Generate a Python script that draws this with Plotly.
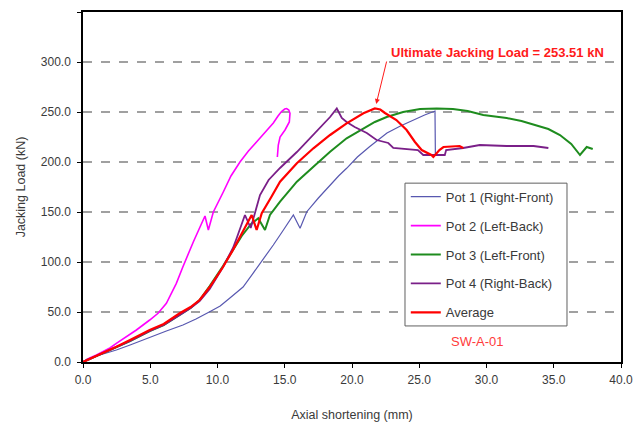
import plotly.graph_objects as go

# ---- data ----
pot1_x = [0, 0.3, 1, 2, 2.48, 3.5, 4.96, 6.2, 7.43, 8.4, 9.42, 10.2, 10.9, 11.9, 12.64, 13.38,
          14.15, 14.9, 15.64, 16.14, 16.64, 17.5, 18.37, 19.0, 19.6, 20.4, 21.3, 22.0, 22.6,
          23.6, 24.56, 25.4, 26.17, 26.2]
pot1_y = [0, 3, 6, 10, 12, 17, 25, 31, 37, 43, 50.3, 56, 63.7, 75, 88.7, 102,
          117, 132, 147, 133.7, 150.3, 164, 177, 186, 193.7, 205, 215.3, 222.5, 229,
          236, 242, 247, 251, 207]

pot2_x = [0, 0.5, 1, 2, 2.48, 3.2, 3.97, 4.96, 5.58, 6.2, 6.94, 7.43, 7.93, 8.2, 8.6, 9.07, 9.32,
          9.69, 10.43, 11.0, 11.67, 12.3, 12.9, 13.5, 14.15, 14.5, 14.76, 15.0, 15.14, 15.3,
          15.39, 15.34, 15.02, 14.65, 14.52, 14.45]
pot2_y = [0, 4, 7, 14, 18.7, 25, 32, 42, 48.7, 58.7, 78.7, 95.3, 112, 120, 132, 146, 132,
          150, 170, 186, 200, 211, 220, 229, 239, 246, 250.5, 253, 253.5, 252,
          248.7, 240, 232, 225, 217, 205]

pot3_x = [0, 1, 2, 2.48, 3.5, 4.96, 6, 7.19, 8, 8.67, 9.42, 10.41, 11.15, 11.8, 12.5, 13.03,
          13.53, 13.9, 14.65, 15.9, 17.13, 18.37, 19.6, 20.85, 21.7, 22.58, 23.8, 25.06, 26.3,
          27.5, 28.6, 29.76, 30.5, 31.5, 32.6, 33.7, 34.6, 35.46, 36.3, 36.95, 37.45, 37.9]
pot3_y = [0, 6, 12, 14.5, 21, 31, 37, 47, 54, 62, 76, 96, 112, 126, 138, 143.7,
          132, 147, 160.3, 180.3, 195.3, 210.3, 223.7, 233.7, 240, 245, 250, 253, 253.5,
          253, 251, 247, 246, 244, 241, 237, 233, 227, 218, 207, 215, 213]

pot4_x = [0, 1, 2, 2.48, 3.5, 4.96, 6, 7.19, 8, 8.67, 9.42, 10.41, 11.15, 11.43, 12.04, 12.47,
          12.8, 13.16, 13.8, 14.65, 15.9, 17.13, 18.37, 18.87, 19.24, 19.6, 20.2, 21.1, 21.83,
          22.7, 23.07, 24.9, 25.3, 26.9, 27.0, 28.27, 29.5, 31.5, 33.5, 34.6]
pot4_y = [0, 6, 12, 14.5, 21, 31, 37, 47, 54, 61, 73, 95, 114, 124, 147, 134,
          150, 167, 182, 194, 210, 227, 245, 253.5, 244, 240, 235, 229, 222,
          219, 214, 212, 207, 207, 212, 214, 217, 216, 216, 214]

avg_x = [0, 1, 2, 2.48, 3.5, 4.96, 6, 7.19, 8, 8.67, 9.42, 10.41, 11.15, 11.8, 12.54, 12.91,
         13.29, 14.0, 14.65, 15.9, 17.13, 18.37, 19.6, 20.85, 21.3, 21.7, 22.1, 22.45, 23.3,
         24.06, 24.68, 25.18, 25.9, 26.05, 26.5, 26.8, 28.0, 28.27]
avg_y = [0, 6, 12, 15.3, 22, 32, 38, 48.7, 55, 62, 75, 95, 112, 128, 147, 132,
         148.7, 165, 180.3, 198.7, 213.7, 227, 238.7, 248.7, 251.5, 253.5, 252.5, 249, 242,
         232, 220, 212, 207, 205, 212, 215, 216, 214]

series_names = ["Pot 1 (Right-Front)", "Pot 2 (Left-Back)", "Pot 3 (Left-Front)",
                "Pot 4 (Right-Back)", "Average"]
ultimate_load = 253.51
x_ticks = [0, 5, 10, 15, 20, 25, 30, 35, 40]
y_ticks = [0, 50, 100, 150, 200, 250, 300, 350]

FONT = "Liberation Sans, Arial, sans-serif"
TXT = "#3a3a3a"

series = [
    (pot1_x, pot1_y, "#5858b0", 1.2),
    (pot2_x, pot2_y, "#ff00ff", 1.6),
    (pot3_x, pot3_y, "#1e8c1e", 2.0),
    (pot4_x, pot4_y, "#7a1f88", 1.8),
    (avg_x, avg_y, "#ff0000", 2.2),
]

fig = go.Figure()
for (xs, ys, col, w), name in zip(series, series_names):
    fig.add_trace(go.Scatter(x=xs, y=ys, mode="lines", name=name, legendgroup=name,
                             line=dict(color=col, width=w)))

# page body has an 8px margin, so the figure is sized 8px smaller and shifted accordingly
fig.update_layout(
    width=633, height=414,
    margin=dict(l=75, r=20, t=4, b=60, autoexpand=False),
    paper_bgcolor="white", plot_bgcolor="white",
    font=dict(family=FONT, size=12, color=TXT),
    showlegend=True,
    legend=dict(x=0.60, y=0.515, xanchor="left", yanchor="top",
                bgcolor="rgba(0,0,0,0)", borderwidth=0,
                font=dict(family=FONT, size=13, color=TXT),
                itemwidth=30, tracegroupgap=9),
    xaxis=dict(range=[0, 40], tickvals=x_ticks, ticktext=[f"{v:.1f}" for v in x_ticks],
               showgrid=False, zeroline=False, showline=True, linecolor="black",
               linewidth=1.5, mirror=True, ticks="outside", ticklen=4, tickcolor="black",
               automargin=False, ticklabelstandoff=2, tickfont=dict(size=12),
               title=dict(text="Axial shortening (mm)", standoff=24,
                          font=dict(size=12.5))),
    yaxis=dict(range=[0, 350], tickvals=y_ticks, ticktext=[f"{v:.1f}" for v in y_ticks],
               showgrid=True, gridcolor="#a0a0a0", gridwidth=1.5, griddash="dash",
               zeroline=False, showline=True, linecolor="black", linewidth=1.5, mirror=True,
               ticks="outside", ticklen=4, tickcolor="black", ticklabelstandoff=4,
               automargin=False, tickfont=dict(size=12),
               title=dict(text="Jacking Load (kN)", standoff=12, font=dict(size=12.5))),
)

# legend box (white, hides the gridlines behind the legend)
fig.add_shape(type="rect", xref="paper", yref="paper", x0=0.5985, x1=0.8996, y0=0.103, y1=0.511,
              line=dict(color="#606060", width=1), fillcolor="white", layer="above")

# annotation text + arrow
fig.add_annotation(x=30.8, y=310, xref="x", yref="y", showarrow=False,
                   text=f"<b>Ultimate Jacking Load = {ultimate_load:.2f} kN</b>",
                   font=dict(family=FONT, size=13, color="#ff1a1a"))
fig.add_annotation(x=21.8, y=258, ax=22.6, ay=302, xref="x", yref="y", axref="x", ayref="y",
                   text="", showarrow=True, arrowhead=2, arrowsize=1, arrowwidth=1,
                   arrowcolor="#ff1a1a")
fig.add_annotation(x=29.3, y=21, xref="x", yref="y", showarrow=False, text="SW-A-01",
                   font=dict(family=FONT, size=13, color="#ff3b3b"))

fig.write_html("out.html")
